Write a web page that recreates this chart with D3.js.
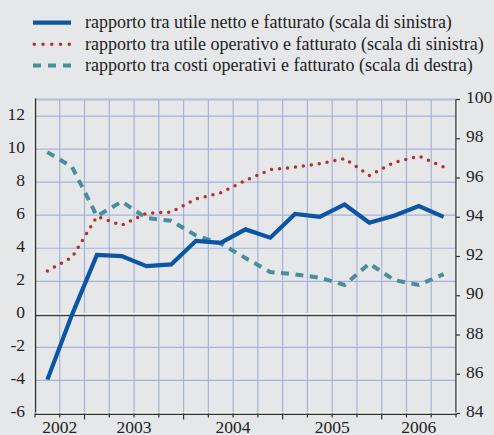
<!DOCTYPE html>
<meta charset="utf-8">
<script src="https://d3js.org/d3.v7.min.js"></script>
<style>
  body { margin: 0; background: #e6e7e9; }
</style>
<div id="chart"></div>
<script>

// quarters from 2002 Q3 to 2006 Q3
var quarters = ["2002Q3","2002Q4","2003Q1","2003Q2","2003Q3","2003Q4","2004Q1","2004Q2","2004Q3","2004Q4",
                "2005Q1","2005Q2","2005Q3","2005Q4","2006Q1","2006Q2","2006Q3"];
var years = ["2002","2003","2004","2005","2006"];

// left scale series
var utileNetto = [-3.95, 0.0, 3.6, 3.52, 2.92, 3.02, 4.45, 4.33, 5.14, 4.64, 6.07, 5.9, 6.65, 5.54, 5.97, 6.55, 5.9];
var utileOperativo = [2.63, 3.45, 5.92, 5.39, 6.11, 6.19, 6.98, 7.36, 8.1, 8.75, 8.91, 9.11, 9.43, 8.4, 9.19, 9.58, 8.91];
// right scale series
var costiOperativi = [97.32, 96.56, 94.06, 94.8, 93.96, 93.82, 93.07, 92.66, 91.92, 91.21, 91.09, 90.92, 90.55, 91.64, 90.8, 90.55, 91.1];

var leftTicks = [-6, -4, -2, 0, 2, 4, 6, 8, 10, 12];
var rightTicks = [84, 86, 88, 90, 92, 94, 96, 98, 100];

var legendLabels = [
  "rapporto tra utile netto e fatturato (scala di sinistra)",
  "rapporto tra utile operativo e fatturato (scala di sinistra)",
  "rapporto tra costi operativi e fatturato (scala di destra)"
];

var W = 494, H = 435;
var pLeft = 35, pRight = 456, pTop = 99.5, pBottom = 413.5;

var svg = d3.select("#chart").append("svg")
    .attr("width", W)
    .attr("height", H)
    .attr("font-family", "Liberation Serif");

var x = d3.scaleBand().domain(quarters).range([pLeft, pRight]).padding(0);
var yL = d3.scaleLinear().domain([-6, 13]).range([pBottom, pTop]);
var yR = d3.scaleLinear().domain([84, 100]).range([pBottom, pTop]);

var gridColor = "#a6b2dc";

// vertical grid lines
svg.append("g").selectAll("line")
  .data(quarters.slice(1))
  .enter().append("line")
    .attr("x1", function(d) { return x(d); })
    .attr("x2", function(d) { return x(d); })
    .attr("y1", pTop)
    .attr("y2", pBottom)
    .style("stroke", gridColor)
    .style("stroke-width", 1.2);

// horizontal grid lines
svg.append("g").selectAll("line")
  .data(leftTicks.filter(function(d) { return d != 0 && d != -6; }))
  .enter().append("line")
    .attr("x1", pLeft)
    .attr("x2", pRight)
    .attr("y1", function(d) { return yL(d); })
    .attr("y2", function(d) { return yL(d); })
    .style("stroke", gridColor)
    .style("stroke-width", 1.2);

// top border
svg.append("line")
  .attr("x1", pLeft).attr("x2", pRight)
  .attr("y1", pTop).attr("y2", pTop)
  .style("stroke", "#b4bede").style("stroke-width", 2);

// zero line (white highlight over dark)
svg.append("line")
  .attr("x1", pLeft).attr("x2", pRight)
  .attr("y1", yL(0) + 1).attr("y2", yL(0) + 1)
  .style("stroke", "#444").style("stroke-width", 1.6);
svg.append("line")
  .attr("x1", pLeft).attr("x2", pRight)
  .attr("y1", yL(0) - 0.6).attr("y2", yL(0) - 0.6)
  .style("stroke", "#fff").style("stroke-width", 1.4);

// left axis
svg.append("line")
  .attr("x1", pLeft - 1).attr("x2", pLeft - 1)
  .attr("y1", pTop - 1).attr("y2", pBottom)
  .style("stroke", "#fff").style("stroke-width", 1.2);
svg.append("line")
  .attr("x1", pLeft + 0.5).attr("x2", pLeft + 0.5)
  .attr("y1", pTop - 1).attr("y2", pBottom)
  .style("stroke", "#333").style("stroke-width", 1.4);

// right axis
svg.append("line")
  .attr("x1", pRight).attr("x2", pRight)
  .attr("y1", pTop).attr("y2", pBottom)
  .style("stroke", "#333").style("stroke-width", 1.4);
svg.append("line")
  .attr("x1", pRight + 1.3).attr("x2", pRight + 1.3)
  .attr("y1", pTop).attr("y2", pBottom)
  .style("stroke", "#fff").style("stroke-width", 1);
svg.append("g").selectAll("line")
  .data(rightTicks)
  .enter().append("line")
    .attr("x1", pRight)
    .attr("x2", pRight + 4)
    .attr("y1", function(d) { return yR(d); })
    .attr("y2", function(d) { return yR(d); })
    .style("stroke", "#333")
    .style("stroke-width", 1.2);

// bottom axis
svg.append("line")
  .attr("x1", pLeft).attr("x2", pRight + 1)
  .attr("y1", pBottom - 0.5).attr("y2", pBottom - 0.5)
  .style("stroke", "#fff").style("stroke-width", 1.2);
svg.append("line")
  .attr("x1", pLeft).attr("x2", pRight + 1)
  .attr("y1", pBottom + 0.8).attr("y2", pBottom + 0.8)
  .style("stroke", "#333").style("stroke-width", 1.3);
var bounds = quarters.map(function(d) { return x(d); }).concat([pRight]);
svg.append("g").selectAll("line")
  .data(bounds)
  .enter().append("line")
    .attr("x1", function(d) { return d; })
    .attr("x2", function(d) { return d; })
    .attr("y1", pBottom)
    .attr("y2", function(d, i) { return (i == 2 || i == 6 || i == 10 || i == 14) ? pBottom + 6 : pBottom + 4; })
    .style("stroke", "#333")
    .style("stroke-width", 1.2);

// lines
var xMid = function(d, i) { return x(quarters[i]) + x.bandwidth() / 2; };
var lineL = d3.line().x(xMid).y(function(d) { return yL(d); });
var lineR = d3.line().x(xMid).y(function(d) { return yR(d); });

svg.append("path")
  .attr("d", lineR(costiOperativi))
  .style("fill", "none")
  .style("stroke", "#4b8d9c")
  .style("stroke-width", 4)
  .style("stroke-dasharray", "8,6.5");

svg.append("path")
  .attr("d", lineL(utileOperativo))
  .style("fill", "none")
  .style("stroke", "#b0322a")
  .style("stroke-width", 3.5)
  .style("stroke-linecap", "round")
  .style("stroke-dasharray", "0,8");

svg.append("path")
  .attr("d", lineL(utileNetto))
  .style("fill", "none")
  .style("stroke", "#0a56a5")
  .style("stroke-width", 4.2);

// tick labels
svg.append("g").selectAll("text")
  .data(leftTicks)
  .enter().append("text")
    .attr("x", 25)
    .attr("y", function(d) { return yL(d) + 3.5; })
    .attr("text-anchor", "end")
    .attr("font-size", 17.5)
    .attr("fill", "#222")
    .text(function(d) { return d; });

svg.append("g").selectAll("text")
  .data(rightTicks)
  .enter().append("text")
    .attr("x", 466)
    .attr("y", function(d) { return yR(d) + 3.5; })
    .attr("font-size", 17.5)
    .attr("fill", "#222")
    .text(function(d) { return d; });

// year labels centred on their quarters
svg.append("g").selectAll("text")
  .data(years)
  .enter().append("text")
    .attr("x", function(yr) {
      var qs = quarters.filter(function(q) { return q.slice(0, 4) == yr; });
      return (x(qs[0]) + x(qs[qs.length - 1]) + x.bandwidth()) / 2;
    })
    .attr("y", 433)
    .attr("text-anchor", "middle")
    .attr("font-size", 17.5)
    .attr("fill", "#222")
    .text(function(d) { return d; });

// legend
var legend = svg.append("g");
var legendY = [22.7, 44.3, 65.5];
legend.append("line").attr("x1", 33).attr("x2", 71).attr("y1", legendY[0]).attr("y2", legendY[0])
  .style("stroke", "#0a56a5").style("stroke-width", 4.2);
legend.append("line").attr("x1", 34.3).attr("x2", 71).attr("y1", legendY[1]).attr("y2", legendY[1])
  .style("stroke", "#b0322a").style("stroke-width", 3.5).style("stroke-linecap", "round").style("stroke-dasharray", "0,8.75");
legend.append("line").attr("x1", 33).attr("x2", 71).attr("y1", legendY[2]).attr("y2", legendY[2])
  .style("stroke", "#4b8d9c").style("stroke-width", 4).style("stroke-dasharray", "8,7");
legend.selectAll("text")
  .data(legendLabels)
  .enter().append("text")
    .attr("x", 85)
    .attr("y", function(d, i) { return legendY[i] + 5.5; })
    .attr("font-size", 18)
    .attr("fill", "#222")
    .text(function(d) { return d; });

</script>
